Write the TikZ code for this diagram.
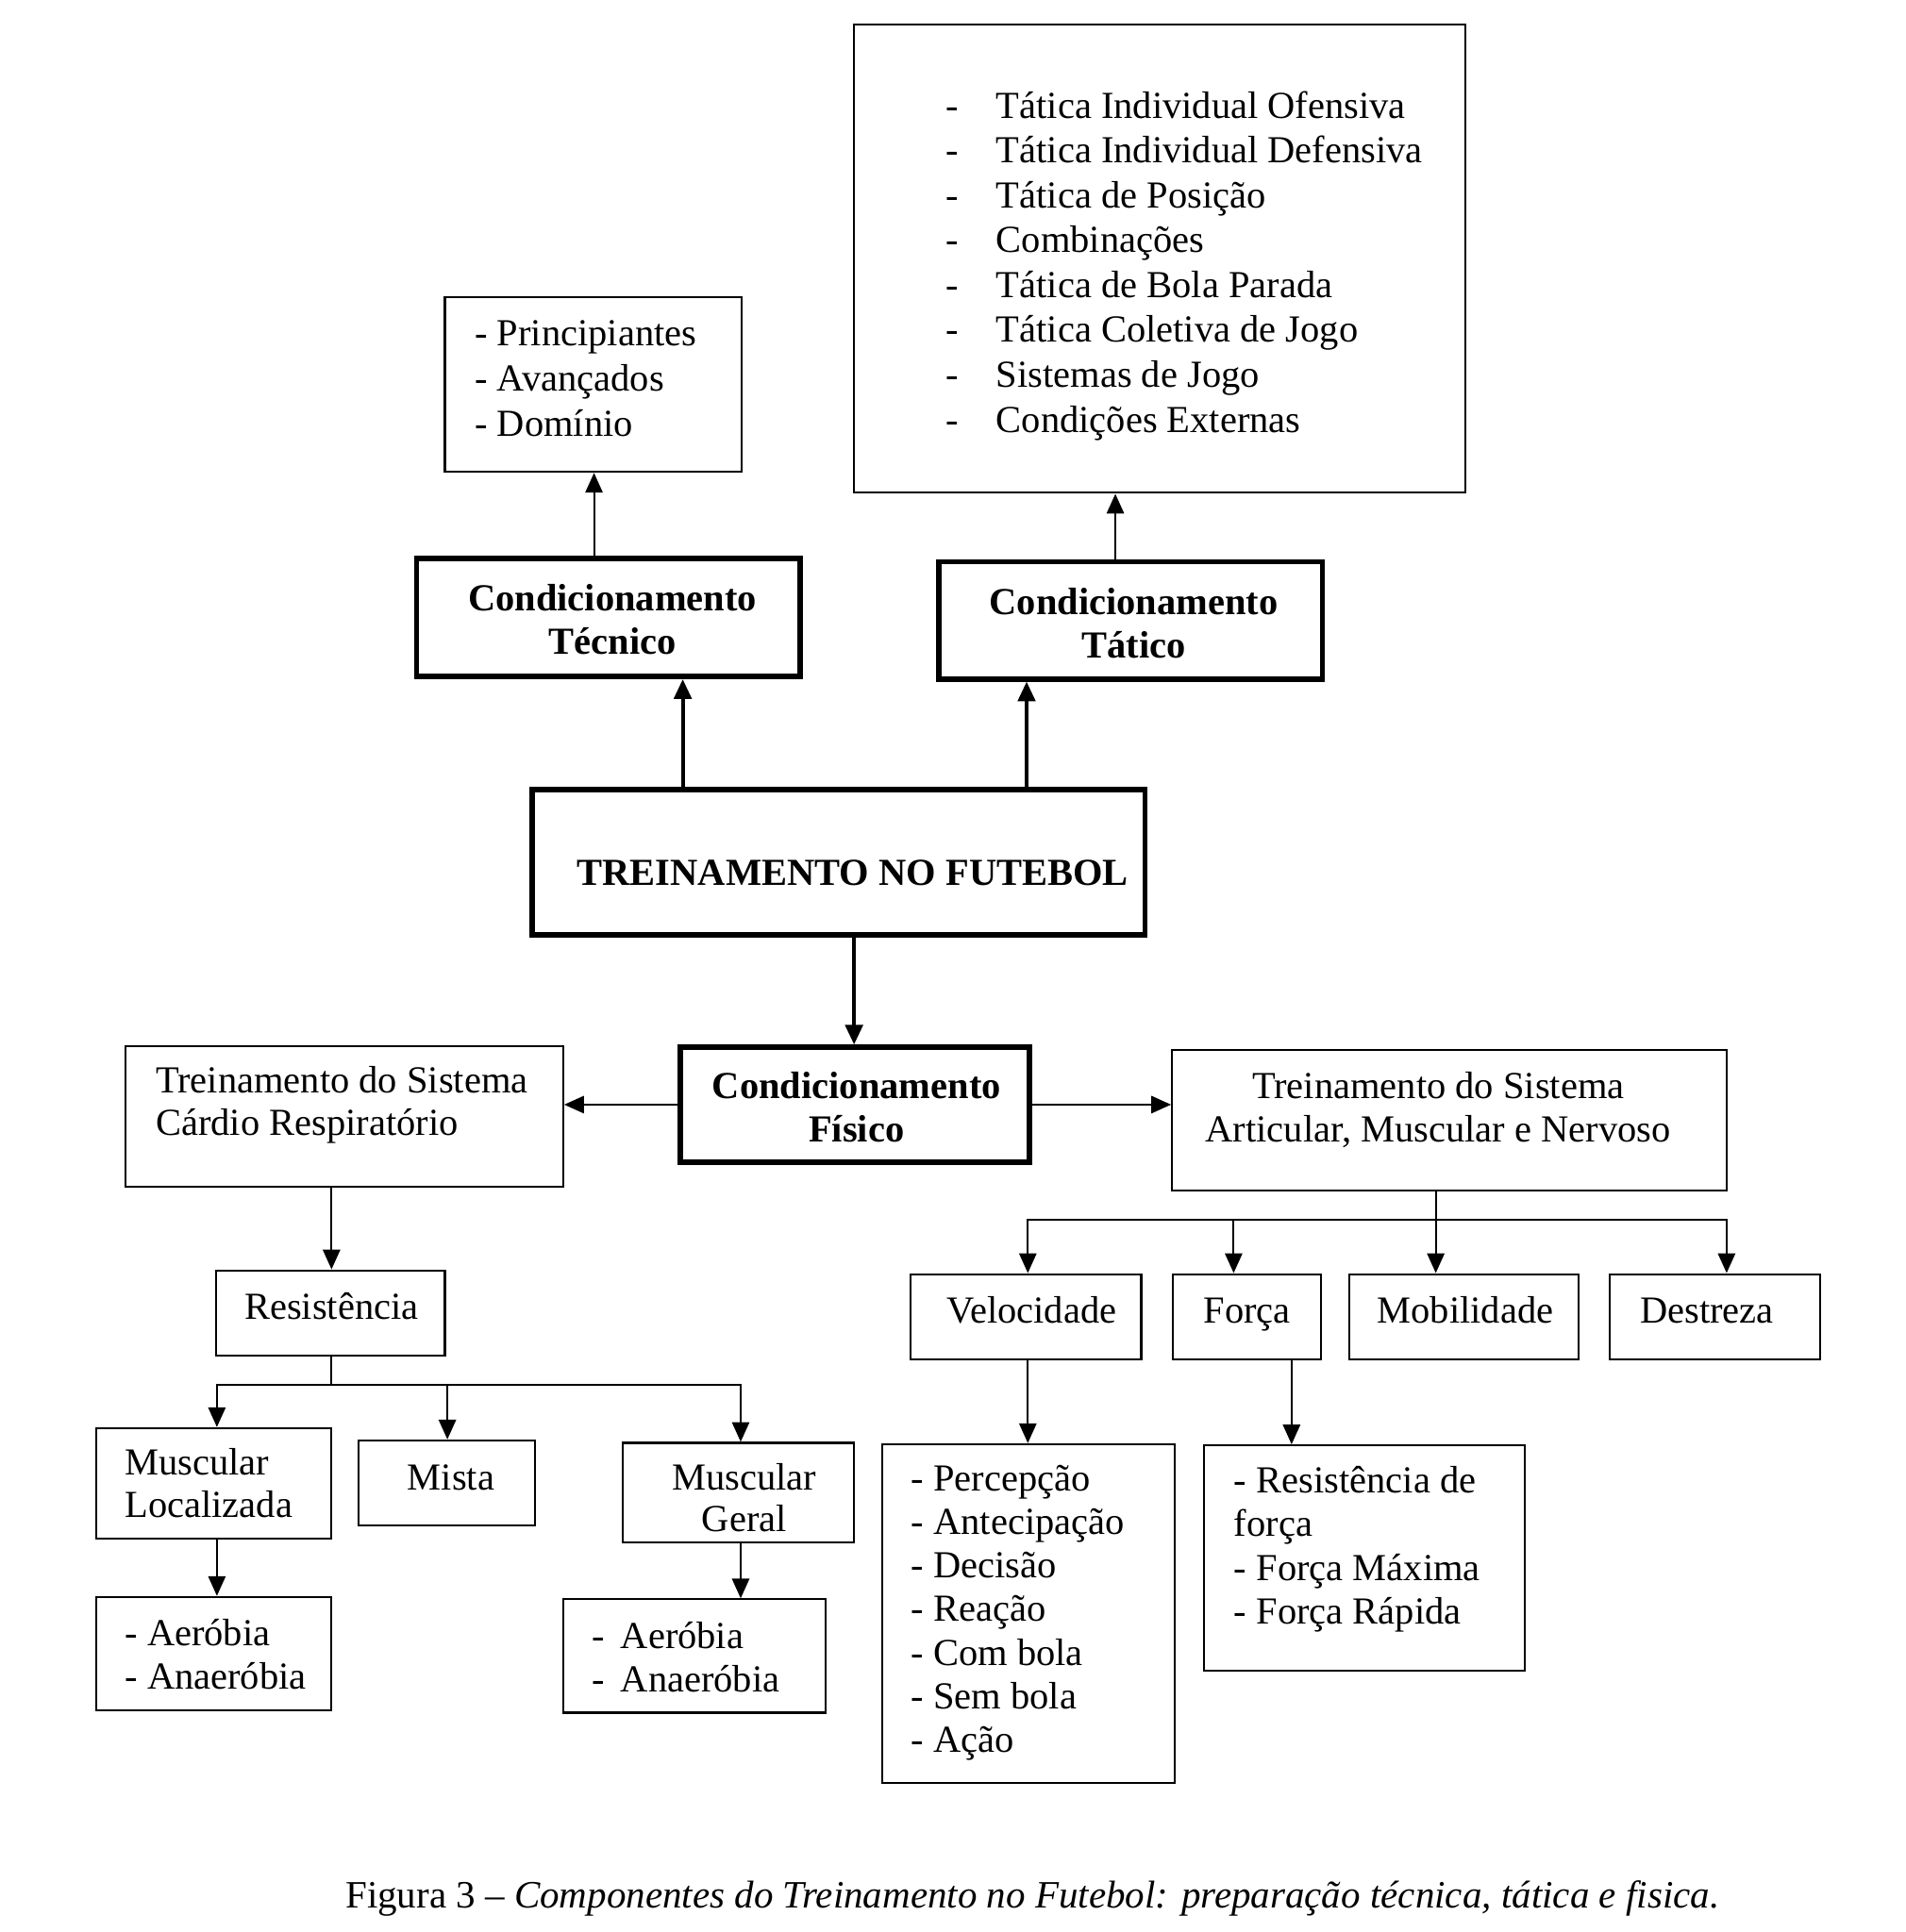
\documentclass[tikz,border=0pt]{standalone}
\usepackage{fontspec}
\setmainfont{Liberation Serif}
\usetikzlibrary{arrows.meta}
\newcommand\mkbox[6]{%
 \pgfmathsetmacro\BXw{(#5-#3)*0.5}%
 \pgfmathsetmacro\BXh{(#6-#4)*0.5}%
 \pgfmathsetmacro\BXx{(#3+#5)/2}%
 \pgfmathsetmacro\BXy{(#4+#6)/2}%
 \node[#1, minimum width=\BXw pt, minimum height=\BXh pt] (#2) at (\BXx,\BXy) {};}
\newcommand\dsh{\makebox[20.5pt][l]{-}}
\begin{document}
\begin{tikzpicture}[x=0.5pt,y=-0.5pt,
 thinbox/.style={draw, line width=0.8pt, inner sep=0pt},
 thickbox/.style={draw, line width=2.2pt, inner sep=0pt},
 arr/.style={line width=0.8pt, -{Triangle[length=8pt,width=7pt]}},
 tarr/.style={line width=1.6pt, -{Triangle[length=8pt,width=7pt]}},
 txt/.style={inner sep=0pt, anchor=north west, align=left, font=\fontsize{15.5}{18}\selectfont},
 ctxt/.style={inner sep=0pt, anchor=north, align=center, font=\fontsize{15.5}{18}\selectfont},
 btxt/.style={inner sep=0pt, anchor=north, align=center, font=\fontsize{15.5}{17.5}\selectfont\bfseries},
]
\useasboundingbox[fill=white] (0,0) rectangle (1546,1568);
% helper columns and rows
\foreach \n/\v in {a/482,b/905,c/554,d/833,e/693,f/1165,g/834,h/1001,i/1401,j/269,k/176,l/363,m/601,n/1048}
  {\coordinate (X\n) at (\v,0);}
\coordinate (busR) at (0,990);
\coordinate (busL) at (0,1124);

% boxes
\mkbox{thinbox}{tatopt}{693}{20}{1189}{400}
\mkbox{thinbox}{tecopt}{361}{241}{602}{383}
\mkbox{thickbox}{tec}{338}{453}{649}{549}
\mkbox{thickbox}{tat}{762}{456}{1073}{551}
\mkbox{thickbox}{tr}{432}{641}{929}{759}
\mkbox{thickbox}{fis}{552}{850}{835}{943}
\mkbox{thinbox}{card}{102}{849}{457}{963}
\mkbox{thinbox}{art}{951}{852}{1401}{966}
\mkbox{thinbox}{vel}{739}{1034}{926}{1103}
\mkbox{thinbox}{forca}{952}{1034}{1072}{1103}
\mkbox{thinbox}{mob}{1095}{1034}{1281}{1103}
\mkbox{thinbox}{des}{1306}{1034}{1477}{1103}
\mkbox{thinbox}{res}{175}{1031}{361}{1100}
\mkbox{thinbox}{ml}{78}{1159}{269}{1249}
\mkbox{thinbox}{mista}{291}{1169}{434}{1238}
\mkbox{thinbox}{mg}{505}{1171}{693}{1252}
\mkbox{thinbox}{aerl}{78}{1296}{269}{1388}
\mkbox{thinbox}{aerg}{457}{1298}{670}{1390}
\mkbox{thinbox}{vlist}{716}{1172}{953}{1447}
\mkbox{thinbox}{flist}{977}{1173}{1237}{1356}

% texts
\node[txt, font=\fontsize{15.5}{18.2}\selectfont] (tatoptT) at (767,70) {\strut\dsh Tática Individual Ofensiva\\
\dsh Tática Individual Defensiva\\ \dsh Tática de Posição\\ \dsh Combinações\\
\dsh Tática de Bola Parada\\ \dsh Tática Coletiva de Jogo\\ \dsh Sistemas de Jogo\\ \dsh Condições Externas};
\node[txt, font=\fontsize{15.5}{18.25}\selectfont] (tecoptT) at (385,255) {\strut - Principiantes\\ - Avançados\\ - Domínio};
\node[btxt] (tecT) at (497,471) {\strut Condicionamento\\Técnico};
\node[btxt] (tatT) at (920,474) {\strut Condicionamento\\Tático};
\node[btxt] (trT) at (692,694) {\strut TREINAMENTO NO FUTEBOL};
\node[btxt] (fisT) at (695,867) {\strut Condicionamento\\Físico};
\node[txt, font=\fontsize{15.5}{17}\selectfont] (cardT) at (126,863) {\strut Treinamento do Sistema\\Cárdio Respiratório};
\node[ctxt, font=\fontsize{15.5}{17.5}\selectfont] (artT) at (1167,867) {\strut Treinamento do Sistema\\Articular, Muscular e Nervoso};
\node[ctxt] (velT) at (837,1048) {\strut Velocidade};
\node[ctxt] (forcaT) at (1012,1048) {\strut Força};
\node[ctxt] (mobT) at (1189,1048) {\strut Mobilidade};
\node[ctxt] (desT) at (1385,1048) {\strut Destreza};
\node[ctxt] (resT) at (269,1045) {\strut Resistência};
\node[txt, font=\fontsize{15.5}{17}\selectfont] (mlT) at (101,1173) {\strut Muscular\\Localizada};
\node[ctxt] (mistaT) at (366,1184) {\strut Mista};
\node[ctxt, font=\fontsize{15.5}{17}\selectfont] (mgT) at (604,1185) {\strut Muscular\\Geral};
\node[txt, font=\fontsize{15.5}{17.5}\selectfont] (aerlT) at (101,1311) {\strut - Aeróbia\\ - Anaeróbia};
\node[txt, font=\fontsize{15.5}{17.5}\selectfont] (aergT) at (480,1313) {\strut -\, Aeróbia\\ -\, Anaeróbia};
\node[txt, font=\fontsize{15.5}{17.65}\selectfont] (vlistT) at (739,1185) {\strut - Percepção\\ - Antecipação\\ - Decisão\\ - Reação\\ - Com bola\\ - Sem bola\\ - Ação};
\node[txt, font=\fontsize{15.5}{17.8}\selectfont] (flistT) at (1001,1186) {\strut - Resistência de\\força\\ - Força Máxima\\ - Força Rápida};
\node[txt, font=\fontsize{15.7}{18}\selectfont] (cap) at (280,1523) {\strut Figura 3 – \textit{Componentes do Treinamento no Futebol: preparação técnica, tática e fisica.}};

% connectors
\draw[arr] (tec.north -| Xa) -- (tecopt.south -| Xa);
\draw[arr] (tat.north -| Xb) -- (tatopt.south -| Xb);
\draw[tarr] (tr.north -| Xc) -- (tec.south -| Xc);
\draw[tarr] (tr.north -| Xd) -- (tat.south -| Xd);
\draw[tarr] (tr.south -| Xe) -- (fis.north -| Xe);
\draw[arr] (fis.west) -- (fis.west -| card.east);
\draw[arr] (fis.east) -- (fis.east -| art.west);
\draw[arr] (art.south -| Xf) -- (mob.north -| Xf);
\draw[arr] (art.south -| Xf) -- (busR -| Xf) -| (vel.north -| Xg);
\draw[arr] (busR -| Xf) -| (forca.north -| Xh);
\draw[arr] (busR -| Xf) -| (des.north -| Xi);
\draw[arr] (card.south -| Xj) -- (res.north -| Xj);
\draw[arr] (res.south -| Xj) -- (busL -| Xj) -| (ml.north -| Xk);
\draw[arr] (busL -| Xj) -| (mista.north -| Xl);
\draw[arr] (busL -| Xj) -| (mg.north -| Xm);
\draw[arr] (ml.south -| Xk) -- (aerl.north -| Xk);
\draw[arr] (mg.south -| Xm) -- (aerg.north -| Xm);
\draw[arr] (vel.south -| Xg) -- (vlist.north -| Xg);
\draw[arr] (forca.south -| Xn) -- (flist.north -| Xn);
\end{tikzpicture}
\end{document}
